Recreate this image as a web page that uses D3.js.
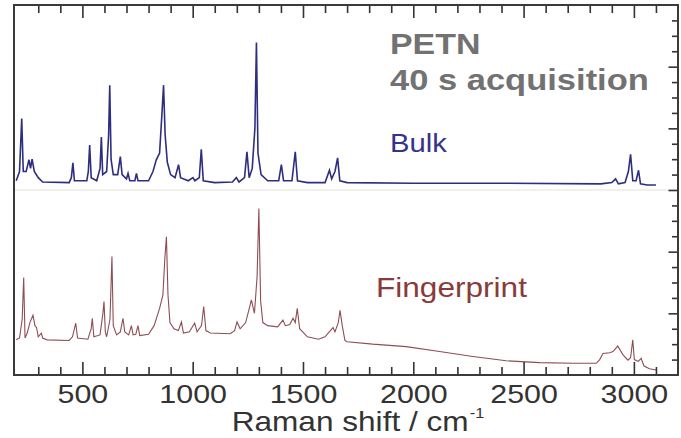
<!DOCTYPE html>
<html>
<head>
<meta charset="utf-8">
<script src="https://cdnjs.cloudflare.com/ajax/libs/d3/7.8.5/d3.min.js"></script>
<style>
  body { margin: 0; background: #fff; }
  text { font-family: "Liberation Sans", Arial, sans-serif; }
</style>
</head>
<body>
<svg id="chart"></svg>
<script>
// Raman shift (cm-1) and intensity, bulk spectrum (shifted up by 3)
const bulkShift = [200, 215, 225, 232, 245, 258, 265, 272, 282, 300, 320, 440, 450, 457, 464, 520, 527, 533, 540, 565,
  580, 586, 592, 610, 619, 624, 630, 640, 660, 672, 680, 700, 707, 715, 738, 745, 752, 800, 820, 835,
  850, 860, 868, 875, 885, 900, 920, 936, 945, 980, 1001, 1010, 1030, 1039, 1048, 1100, 1180, 1198, 1210, 1235,
  1246, 1256, 1270, 1282, 1289, 1296, 1310, 1340, 1390, 1402, 1412, 1450, 1465, 1475, 1520, 1600, 1620, 1630, 1645, 1657,
  1667, 1700, 2000, 2400, 2850, 2900, 2917, 2930, 2960, 2975, 2985, 2995, 3010, 3021, 3030, 3060, 3100];
const bulkIntensity = [0.15, 0.3, 1.16, 0.3, 0.3, 0.49, 0.35, 0.5, 0.3, 0.2, 0.13, 0.12, 0.2, 0.44, 0.15, 0.15, 0.3, 0.73, 0.2, 0.15,
  0.35, 0.86, 0.25, 0.3, 0.9, 1.70, 0.5, 0.25, 0.25, 0.54, 0.25, 0.18, 0.27, 0.15, 0.15, 0.27, 0.15, 0.15, 0.3, 0.49,
  0.6, 1.2, 1.70, 0.9, 0.45, 0.25, 0.2, 0.41, 0.2, 0.15, 0.2, 0.15, 0.2, 0.66, 0.15, 0.12, 0.13, 0.2, 0.13, 0.2,
  0.62, 0.2, 0.35, 1.0, 2.39, 0.6, 0.25, 0.15, 0.15, 0.41, 0.15, 0.15, 0.62, 0.15, 0.12, 0.12, 0.32, 0.18, 0.3, 0.52,
  0.15, 0.12, 0.11, 0.11, 0.1, 0.12, 0.18, 0.1, 0.12, 0.3, 0.58, 0.15, 0.15, 0.32, 0.1, 0.08, 0.08];

// fingerprint spectrum
const printShift = [200, 215, 227, 234, 240, 250, 262, 276, 285, 292, 300, 314, 320, 340, 440, 455, 470, 478, 525, 540,
  545, 552, 580, 593, 598, 604, 610, 625, 634, 640, 655, 672, 684, 692, 710, 722, 730, 742, 752, 760,
  800, 825, 850, 865, 874, 881, 888, 897, 915, 935, 949, 958, 985, 1009, 1020, 1040, 1050, 1060, 1080, 1170,
  1190, 1201, 1215, 1240, 1258, 1266, 1280, 1292, 1300, 1308, 1318, 1340, 1385, 1409, 1420, 1440, 1455, 1465, 1474, 1485,
  1520, 1570, 1600, 1636, 1645, 1660, 1668, 1678, 1690, 1700, 1816, 1968, 2119, 2270, 2421, 2573, 2724, 2830, 2845, 2860,
  2890, 2905, 2927, 2950, 2973, 2985, 2995, 3002, 3020, 3033, 3045, 3070, 3101];
const printIntensity = [0.57, 0.6, 0.9, 1.58, 0.6, 0.68, 0.85, 0.97, 0.8, 0.77, 0.62, 0.68, 0.6, 0.57, 0.56, 0.62, 0.84, 0.6, 0.58, 0.75,
  0.92, 0.62, 0.65, 1.0, 1.19, 0.7, 0.62, 0.9, 1.92, 0.8, 0.65, 0.7, 0.92, 0.7, 0.65, 0.8, 0.65, 0.66, 0.8, 0.64,
  0.66, 0.8, 1.08, 1.3, 1.9, 2.24, 1.3, 0.85, 0.75, 0.72, 0.86, 0.68, 0.7, 0.84, 0.7, 0.8, 1.11, 0.72, 0.68, 0.67,
  0.72, 0.86, 0.75, 0.85, 1.1, 1.22, 1.0, 1.6, 2.70, 1.2, 0.85, 0.8, 0.78, 0.89, 0.8, 0.82, 0.92, 0.85, 1.08, 0.75,
  0.62, 0.58, 0.62, 0.77, 0.7, 0.85, 1.05, 0.8, 0.56, 0.54, 0.50, 0.46, 0.38, 0.30, 0.23, 0.20, 0.19, 0.19, 0.25, 0.35,
  0.36, 0.38, 0.47, 0.33, 0.24, 0.28, 0.57, 0.25, 0.22, 0.27, 0.15, 0.1, 0.08];

const bulkOffset = 3;
const majorTicks = [500, 1000, 1500, 2000, 2500, 3000];
const minorTicks = d3.range(300, 3200, 100).filter(v => v % 500 !== 0);
const yMajor = [1, 2, 3, 4, 5];
const yMinor = d3.range(0.25, 6, 0.25).filter(v => v % 1 !== 0);

const W = 681, H = 438;
const plotLeft = 14, plotRight = 678, plotTop = 5, plotBottom = 375;
const sx = 1.17; // picture is stretched sideways

const svg = d3.select("#chart").attr("width", W).attr("height", H);

const x = d3.scaleLinear().domain([190, 3200]).range([plotLeft, plotRight]);
const y = d3.scaleLinear().domain([0, 6]).range([plotBottom, plotTop]);

// faint zero line of the bulk trace
svg.append("line")
  .attr("x1", plotLeft).attr("x2", plotRight)
  .attr("y1", y(bulkOffset)).attr("y2", y(bulkOffset))
  .style("stroke", "#e4e2d6").style("stroke-width", 1);

const line = d3.line().x(d => x(d[0])).y(d => y(d[1]));

svg.append("path")
  .datum(printShift.map((v, i) => [v, printIntensity[i]]))
  .attr("d", line)
  .style("fill", "none").style("stroke", "#8e4d55").style("stroke-width", 1.1);

svg.append("path")
  .datum(bulkShift.map((v, i) => [v, bulkIntensity[i] + bulkOffset]))
  .attr("d", line)
  .style("fill", "none").style("stroke", "#2e2e80").style("stroke-width", 1.6);

// axes: ticks point inward
function styleAxis(g) {
  g.select(".domain").remove();
  g.selectAll("line").style("stroke", "#333").style("stroke-width", 1.6);
}

svg.append("g").attr("transform", "translate(0," + plotBottom + ")")
  .call(d3.axisBottom(x).tickValues(minorTicks).tickSize(-8).tickFormat(""))
  .call(styleAxis);
const xb = svg.append("g").attr("transform", "translate(0," + plotBottom + ")")
  .call(d3.axisBottom(x).tickValues(majorTicks).tickSize(-13).tickPadding(0).tickFormat(d3.format("d")))
  .call(styleAxis);
xb.selectAll("text")
  .attr("y", 0).attr("dy", null)
  .attr("transform", "translate(0,28) scale(" + sx + ",1)")
  .style("font-size", "26px").style("fill", "#333");

svg.append("g").attr("transform", "translate(0," + plotTop + ")")
  .call(d3.axisTop(x).tickValues(minorTicks).tickSize(-8).tickFormat(""))
  .call(styleAxis);
svg.append("g").attr("transform", "translate(0," + plotTop + ")")
  .call(d3.axisTop(x).tickValues(majorTicks).tickSize(-13).tickFormat(""))
  .call(styleAxis);

svg.append("g").attr("transform", "translate(" + plotRight + ",0)")
  .call(d3.axisRight(y).tickValues(yMinor).tickSize(-6).tickFormat(""))
  .call(styleAxis);
svg.append("g").attr("transform", "translate(" + plotRight + ",0)")
  .call(d3.axisRight(y).tickValues(yMajor).tickSize(-9.5).tickFormat(""))
  .call(styleAxis);

// frame
svg.append("rect")
  .attr("x", plotLeft).attr("y", plotTop)
  .attr("width", plotRight - plotLeft).attr("height", plotBottom - plotTop)
  .style("fill", "none").style("stroke", "#3a3a3a").style("stroke-width", 2);

function label(txt, px, py, size, weight, color) {
  return svg.append("text")
    .attr("transform", "translate(" + px + "," + py + ") scale(" + sx + ",1)")
    .style("font-size", size + "px").style("font-weight", weight)
    .style("fill", color).text(txt);
}

label("PETN", 390, 54, 29, "bold", "#727272");
label("40 s acquisition", 390, 90, 29.5, "bold", "#727272");
label("Bulk", 390, 152, 25, "normal", "#34348a");
label("Fingerprint", 376, 297, 27, "normal", "#8a3a3a");

const title = svg.append("text")
  .attr("transform", "translate(358,431) scale(" + sx + ",1)")
  .attr("text-anchor", "middle")
  .style("font-size", "27px").style("fill", "#333");
title.append("tspan").text("Raman shift / cm");
title.append("tspan").attr("dx", 1).attr("dy", -13).style("font-size", "14px").text("-1");
</script>
</body>
</html>
